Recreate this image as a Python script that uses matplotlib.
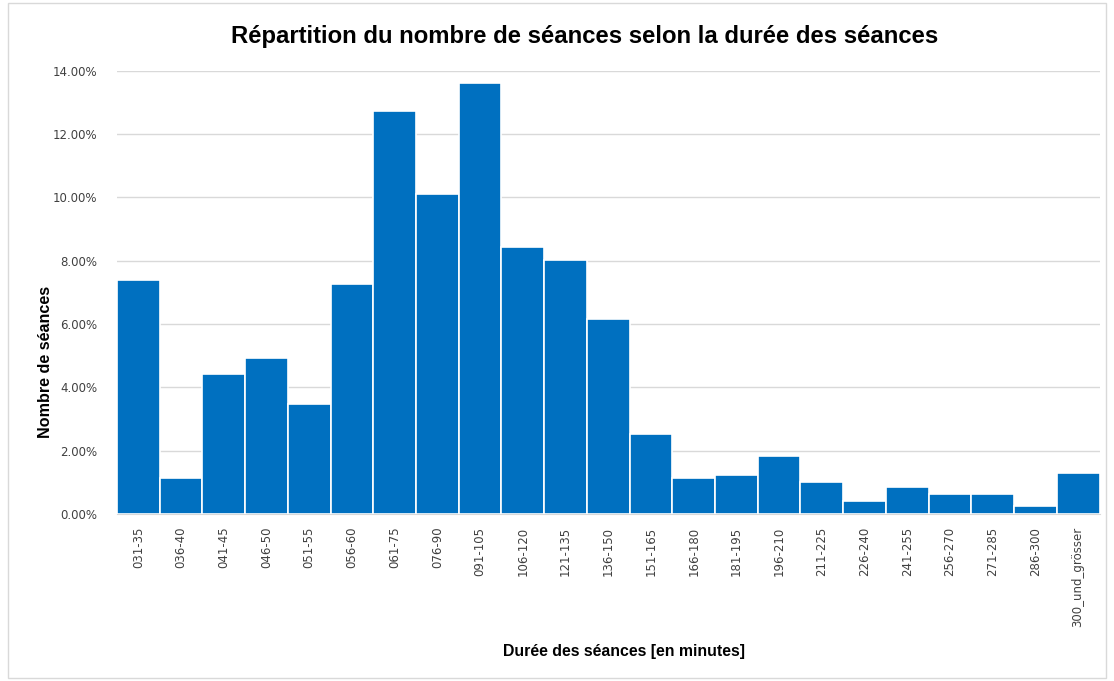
import matplotlib
matplotlib.use("Agg")
import matplotlib.pyplot as plt
from matplotlib.ticker import PercentFormatter

categories = [
    "031-35", "036-40", "041-45", "046-50", "051-55", "056-60", "061-75",
    "076-90", "091-105", "106-120", "121-135", "136-150", "151-165",
    "166-180", "181-195", "196-210", "211-225", "226-240", "241-255",
    "256-270", "271-285", "286-300", "300_und_grösser",
]
shares = [
    7.40, 1.14, 4.42, 4.93, 3.48, 7.27, 12.74,
    10.11, 13.62, 8.44, 8.03, 6.16, 2.53,
    1.14, 1.23, 1.83, 1.01, 0.41, 0.85,
    0.63, 0.63, 0.25, 1.30,
]
y_ticks = [0, 2, 4, 6, 8, 10, 12, 14]

fig = plt.figure(figsize=(11.14, 6.81), dpi=100)
ax = fig.add_axes([0.105, 0.245, 0.882, 0.651])

x = range(len(categories))
ax.bar(x, shares, width=1.0, color="#0070C0", edgecolor="white", linewidth=1.2, zorder=3)

ax.set_xlim(-0.5, len(categories) - 0.5)
ax.set_ylim(0, 14)
ax.set_yticks(y_ticks)
ax.yaxis.set_major_formatter(PercentFormatter(decimals=2))
ax.set_xticks(list(x))
ax.set_xticklabels(categories, rotation=90, fontsize=8.5, color="#404040")
ax.tick_params(axis="y", labelsize=8.5, labelcolor="#404040", length=0, pad=14)
ax.tick_params(axis="x", length=0, pad=9)
ax.grid(axis="y", color="#d9d9d9", linewidth=1, zorder=0)

for side in ["top", "right", "left"]:
    ax.spines[side].set_visible(False)
ax.spines["bottom"].set_color("#d9d9d9")

# Achsentitel frei platziert, wie im Original (nicht mittig zur Achse)
fig.text(0.041, 0.468, "Nombre de séances", rotation=90, ha="center", va="center",
         fontsize=11.6, fontweight="bold", family="Liberation Sans")
fig.text(0.560, 0.043, "Durée des séances [en minutes]", ha="center", va="center",
         fontsize=11.4, fontweight="bold", family="Liberation Sans")
fig.text(0.525, 0.946, "Répartition du nombre de séances selon la durée des séances",
         ha="center", va="center", fontsize=17.2, fontweight="bold",
         family="Liberation Sans")

fig.add_artist(plt.Rectangle((0.007, 0.005), 0.986, 0.99, transform=fig.transFigure,
                             fill=False, edgecolor="#d9d9d9", linewidth=1))

fig.savefig("out.png", dpi=100)
